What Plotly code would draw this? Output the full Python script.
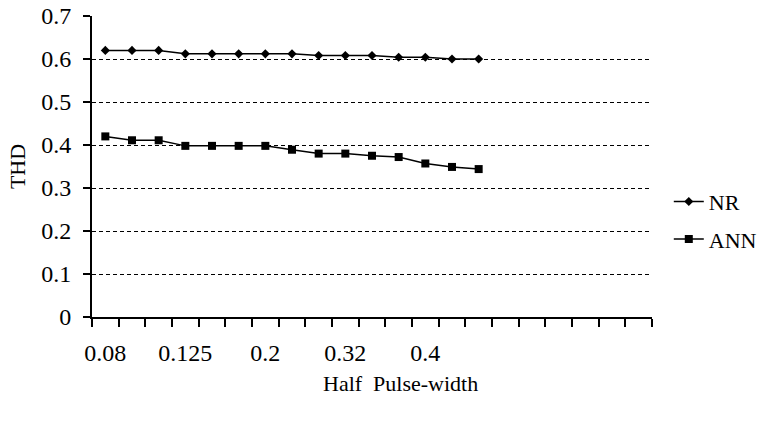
import plotly.graph_objects as go

# Data
n_categories = 21
tick_positions = [0, 3, 6, 9, 12]
tick_labels = ["0.08", "0.125", "0.2", "0.32", "0.4"]
x_index = list(range(15))
nr_values = [0.62, 0.62, 0.62, 0.612, 0.612, 0.612, 0.612, 0.612, 0.608, 0.608,
             0.608, 0.604, 0.604, 0.600, 0.600]
ann_values = [0.42, 0.411, 0.411, 0.398, 0.398, 0.398, 0.398, 0.389, 0.380, 0.380,
              0.375, 0.372, 0.357, 0.349, 0.344]
y_ticks = [0, 0.1, 0.2, 0.3, 0.4, 0.5, 0.6, 0.7]
y_ticktext = ["0", "0.1", "0.2", "0.3", "0.4", "0.5", "0.6", "0.7"]

FONT = "Times New Roman, Liberation Serif, serif"

fig = go.Figure()
fig.add_trace(go.Scatter(
    x=x_index, y=nr_values, name="NR", mode="lines+markers",
    line=dict(color="black", width=1.5),
    marker=dict(symbol="diamond", size=7, color="black"),
    legendgroup="a",
))
fig.add_trace(go.Scatter(
    x=x_index, y=ann_values, name="ANN", mode="lines+markers",
    line=dict(color="black", width=1.5),
    marker=dict(symbol="square", size=8, color="black"),
    legendgroup="b",
))

boundaries = [i - 0.5 for i in range(n_categories + 1)]

fig.update_layout(
    width=780, height=421,
    margin=dict(l=92, r=128, t=16, b=104, autoexpand=False),
    paper_bgcolor="white", plot_bgcolor="white",
    font=dict(family=FONT, color="black", size=22),
    showlegend=True,
    legend=dict(
        x=1.03, y=0.32, xanchor="left", yanchor="middle",
        font=dict(family=FONT, size=22, color="black"),
        tracegroupgap=6, traceorder="grouped",
        bgcolor="rgba(0,0,0,0)",
    ),
    xaxis=dict(
        range=[-0.5, n_categories - 0.5], automargin=False,
        tickmode="array", tickvals=tick_positions, ticktext=tick_labels,
        ticks="", showgrid=False, zeroline=False,
        showline=True, linecolor="black", linewidth=2,
        tickfont=dict(family=FONT, size=24, color="black"),
        ticklabelstandoff=13, ticklabeloverflow="allow",
        minor=dict(tickmode="array", tickvals=boundaries, ticks="outside",
                   ticklen=8, tickcolor="black", tickwidth=1.5, showgrid=False),
    ),
    yaxis=dict(
        range=[0, 0.7], automargin=False,
        tickmode="array", tickvals=y_ticks, ticktext=y_ticktext,
        ticks="outside", ticklen=7, tickcolor="black", tickwidth=1.5,
        showgrid=True, gridcolor="black", gridwidth=1.4, griddash="4px,3px",
        zeroline=False,
        showline=True, linecolor="black", linewidth=2,
        tickfont=dict(family=FONT, size=24, color="black"),
        ticklabelstandoff=7, ticklabeloverflow="allow",
        title=dict(text="THD", font=dict(family=FONT, size=22, color="black"), standoff=10),
    ),
    annotations=[dict(
        text="Half  Pulse-width", x=0.55, y=-0.22, xref="paper", yref="paper",
        xanchor="center", yanchor="middle", showarrow=False,
        font=dict(family=FONT, size=22, color="black"),
    )],
)

fig.write_html("out.html", config={"displayModeBar": False},
               post_script="document.body.style.margin='0';")
